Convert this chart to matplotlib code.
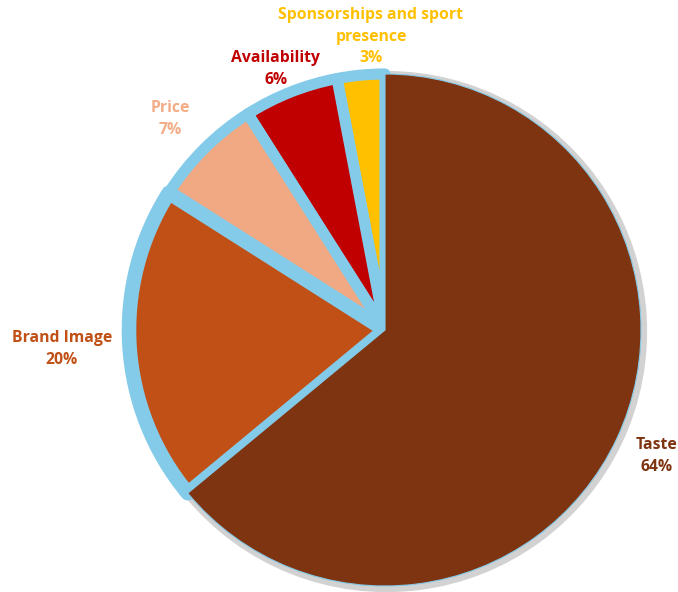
import matplotlib
matplotlib.use("Agg")
import matplotlib.pyplot as plt
from matplotlib.patches import Wedge

# ── Data ──────────────────────────────────────────────────────────────
labels = ["Taste", "Brand Image", "Price", "Availability",
          "Sponsorships and sport\npresence"]
shares = [64, 20, 7, 6, 3]
colors = ["#7E3410", "#C05015", "#F0A982", "#C00000", "#FFC000"]
label_colors = ["#7E3410", "#C05015", "#F2AC86", "#C00000", "#FFC000"]

EDGE = "#84CBEA"
W, H = 678, 592
CX, CY, R = 385, 330, 256   # pie centre / radius in pixels

fig = plt.figure(figsize=(W / 100, H / 100), dpi=100)
ax = fig.add_axes([0, 0, 1, 1])

wedges, _ = ax.pie(shares, colors=colors, startangle=90, counterclock=False,
                   radius=1.0, wedgeprops=dict(linewidth=0))

# axis limits so that 1 data unit = R pixels, centre at (CX, CY)
ax.set_xlim(-CX / R, (W - CX) / R)
ax.set_ylim(-(H - CY) / R, CY / R)
ax.set_aspect("auto")
ax.axis("off")

# soft grey shadow behind the big slice
t = wedges[0]
shadow = Wedge((0.006, -0.006), 1.018, t.theta1, t.theta2,
               facecolor="#D2D2D2", edgecolor="none", zorder=0.5)
ax.add_patch(shadow)

# heavy rounded outline on the small slices, big slice sits on top
widths = [0.8, 10.5, 8.0, 8.0, 8.0]
for i, w in enumerate(wedges[1:], start=1):
    w.set_edgecolor(EDGE)
    w.set_linewidth(widths[i])
    w.set_joinstyle("round")
    w.set_zorder(2 + (len(wedges) - i))
t.set_edgecolor(EDGE)
t.set_linewidth(widths[0])
t.set_zorder(10)

# ── Labels (one text per line, top line at py) ────────────────────────
label_top = [(657, 445), (62, 338), (170, 108), (276, 58), (371, 15)]
LINE = 21.7
for name, pct, col, (px, py) in zip(labels, shares, label_colors, label_top):
    lines = name.split("\n") + [f"{pct}%"]
    for k, s in enumerate(lines):
        ax.text((px - CX) / R, (CY - (py + k * LINE)) / R, s,
                ha="center", va="center", color=col, fontsize=11.3,
                fontweight="bold", family="Open Sans", zorder=20)

fig.savefig("out.png", dpi=100)
